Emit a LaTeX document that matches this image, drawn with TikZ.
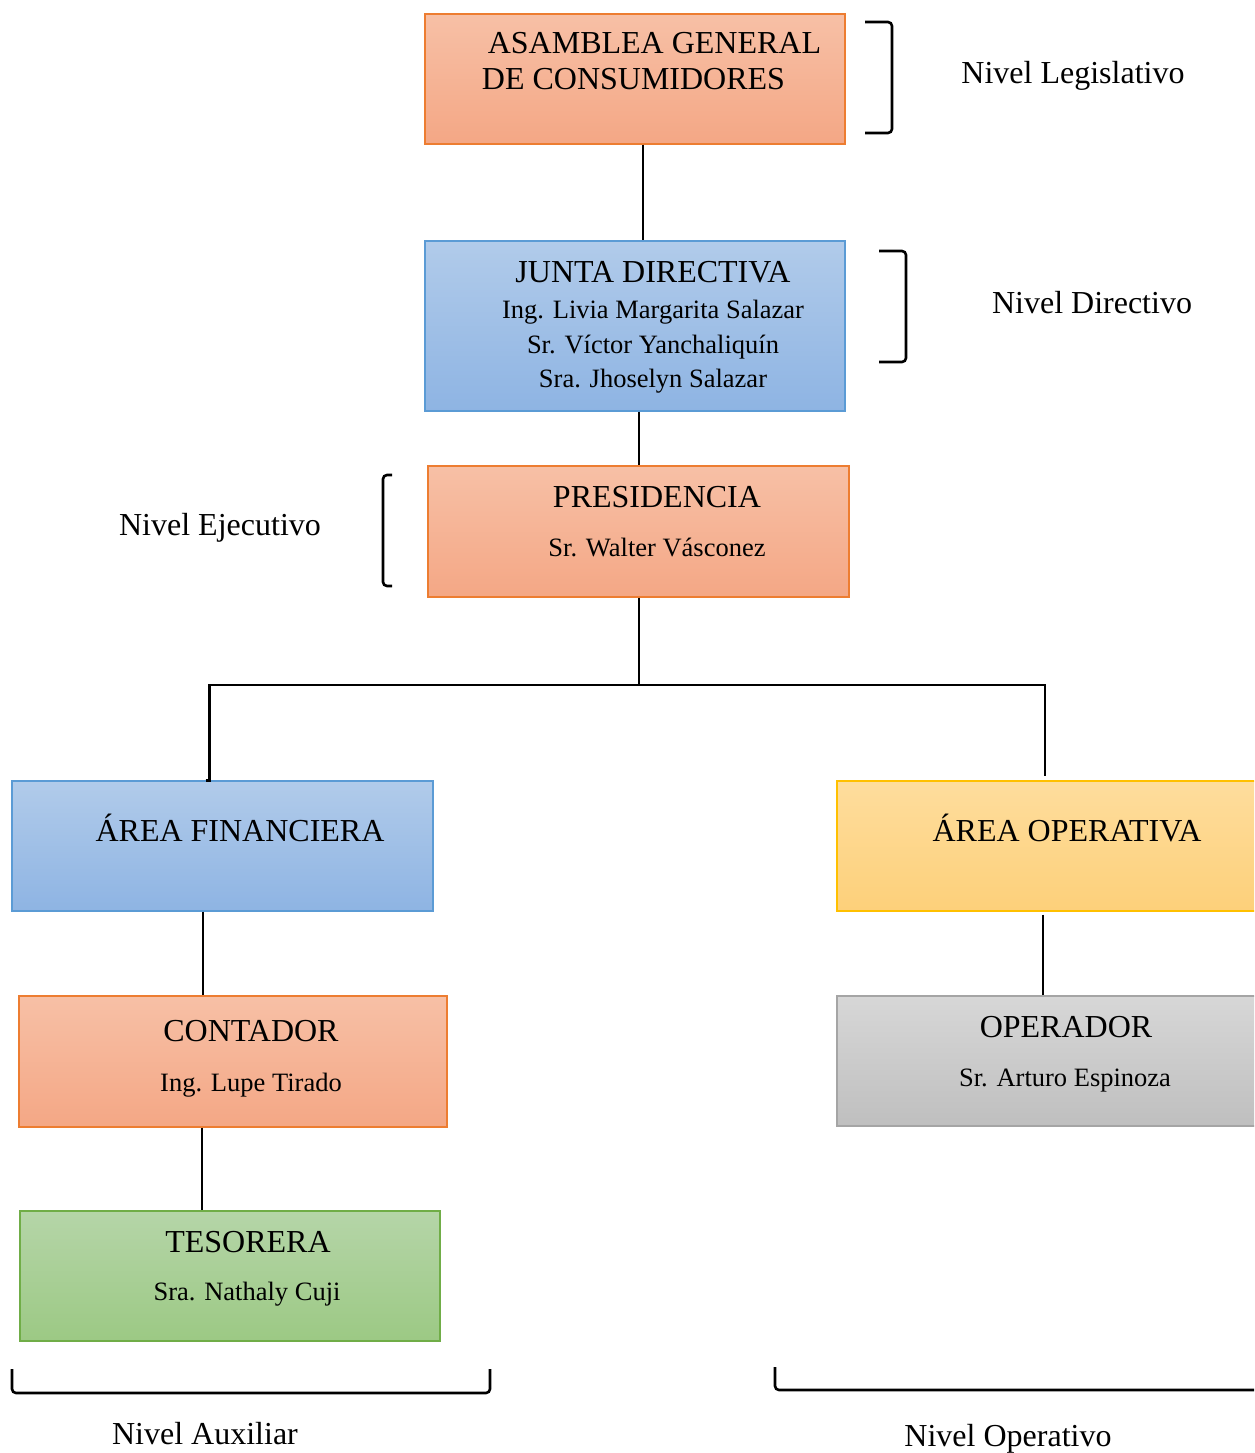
\documentclass[tikz,border=0pt]{standalone}
\usepackage{fontspec}
\setmainfont{Liberation Serif}
\begin{document}
\begin{tikzpicture}[x=1pt,y=-1pt,
  box/.style={rectangle, inner sep=0pt, line width=1.3pt},
  orangebox/.style={box, draw=boxorange, top color=orangetop, bottom color=orangebot},
  bluebox/.style={box, draw=boxblue, top color=bluetop, bottom color=bluebot},
  yellowbox/.style={box, draw=boxyellow, top color=yellowtop, bottom color=yellowbot},
  graybox/.style={box, draw=boxgray, top color=graytop, bottom color=graybot},
  greenbox/.style={box, draw=boxgreen, top color=greentop, bottom color=greenbot},
  title/.style={anchor=base, inner sep=0pt, font=\fontsize{32}{38}\selectfont},
  person/.style={anchor=base, inner sep=0pt, font=\fontsize{26.5}{32}\selectfont},
  level/.style={anchor=base, inner sep=0pt, font=\fontsize{32}{38}\selectfont},
  link/.style={line width=2.7pt, black},
  brace/.style={line width=2.6pt, black, rounded corners=4pt}]
\definecolor{boxorange}{HTML}{ED7D31}
\definecolor{orangetop}{HTML}{F7C0A6}
\definecolor{orangebot}{HTML}{F4A785}
\definecolor{boxblue}{HTML}{5B9BD5}
\definecolor{bluetop}{HTML}{B1CBEA}
\definecolor{bluebot}{HTML}{8EB4E3}
\definecolor{boxyellow}{HTML}{FFC000}
\definecolor{yellowtop}{HTML}{FEDD9D}
\definecolor{yellowbot}{HTML}{FDD07A}
\definecolor{boxgray}{HTML}{A5A5A5}
\definecolor{graytop}{HTML}{D7D7D7}
\definecolor{graybot}{HTML}{BFBFBF}
\definecolor{boxgreen}{HTML}{70AD47}
\definecolor{greentop}{HTML}{B5D5A8}
\definecolor{greenbot}{HTML}{9CC984}

\clip (0,0) rectangle (1254,1453);
\fill[white] (0,0) rectangle (1254,1453);

% organisational boxes
\node[orangebox, minimum width=420pt, minimum height=130pt] (asamblea) at (635,79) {};
\node[bluebox,   minimum width=420pt, minimum height=170pt] (junta) at (635,326) {};
\node[orangebox, minimum width=421pt, minimum height=131pt] (presidencia) at (638.5,531.5) {};
\node[bluebox,   minimum width=421pt, minimum height=130pt] (financiera) at (222.5,846) {};
\node[yellowbox, minimum width=421pt, minimum height=130pt] (operativa) at (1047.5,846) {};
\node[orangebox, minimum width=428pt, minimum height=131pt] (contador) at (233,1061.5) {};
\node[graybox,   minimum width=421pt, minimum height=130pt] (operador) at (1047.5,1061) {};
\node[greenbox,  minimum width=420pt, minimum height=130pt] (tesorera) at (230,1276) {};

% box texts
\node[title] (asamblea-a) at (654.5,54) {ASAMBLEA GENERAL};
\node[title] (asamblea-b) at (633.5,90) {DE CONSUMIDORES};
\node[title] (junta-a) at (653,282) {JUNTA DIRECTIVA};
\node[person] (junta-b) at (653,318) {Ing. Livia Margarita Salazar};
\node[person] (junta-c) at (653,353) {Sr. Víctor Yanchaliquín};
\node[person] (junta-d) at (653,387) {Sra. Jhoselyn Salazar};
\node[title] (presidencia-a) at (657,507) {PRESIDENCIA};
\node[person] (presidencia-b) at (657,556) {Sr. Walter Vásconez};
\node[title] (financiera-a) at (240,841) {ÁREA FINANCIERA};
\node[title] (operativa-a) at (1067,841) {ÁREA OPERATIVA};
\node[title] (contador-a) at (251,1041) {CONTADOR};
\node[person] (contador-b) at (251,1091) {Ing. Lupe Tirado};
\node[title] (operador-a) at (1066,1037) {OPERADOR};
\node[person] (operador-b) at (1065,1086) {Sr. Arturo Espinoza};
\node[title] (tesorera-a) at (248,1252) {TESORERA};
\node[person] (tesorera-b) at (247,1300) {Sra. Nathaly Cuji};

% connectors
\coordinate (hub) at (639,685);
\draw[link] ([xshift=8pt]asamblea.south) -- ([xshift=8pt]junta.north);
\draw[link] ([xshift=4pt]junta.south) -- ([xshift=4pt]junta.south |- presidencia.north);
\draw[link] (presidencia.south -| hub) -- (hub);
\draw[link] ([xshift=-17pt]financiera.north) -- ++(4,0) |- (hub) -| ([xshift=-2.5pt,yshift=4pt]operativa.north);
\draw[link] ([xshift=-19.5pt]financiera.south) -- ([xshift=-19.5pt]financiera.south |- contador.north);
\draw[link] ([xshift=-31pt]contador.south) -- ([xshift=-31pt]contador.south |- tesorera.north);
\draw[link] ([xshift=-4.5pt,yshift=-3pt]operativa.south) -- ([xshift=-4.5pt]operativa.south |- operador.north);

% level brackets
\draw[brace] (865,22) -- (892,22) -- (892,133) -- (865,133);
\draw[brace] (879,251) -- (906,251) -- (906,362) -- (879,362);
\draw[brace] (392,475) -- (383,475) -- (383,586) -- (392,586);
\draw[brace] (12,1369) -- (12,1393) -- (490,1393) -- (490,1369);
\draw[brace] (775,1367) -- (775,1390) -- (1262,1390);

% level labels
\node[level] (lv-leg) at (1073,84) {Nivel Legislativo};
\node[level] (lv-dir) at (1092,313) {Nivel Directivo};
\node[level] (lv-eje) at (220,535) {Nivel Ejecutivo};
\node[level] (lv-aux) at (205,1444) {Nivel Auxiliar};
\node[level] (lv-ope) at (1008,1446) {Nivel Operativo};
\end{tikzpicture}
\end{document}
